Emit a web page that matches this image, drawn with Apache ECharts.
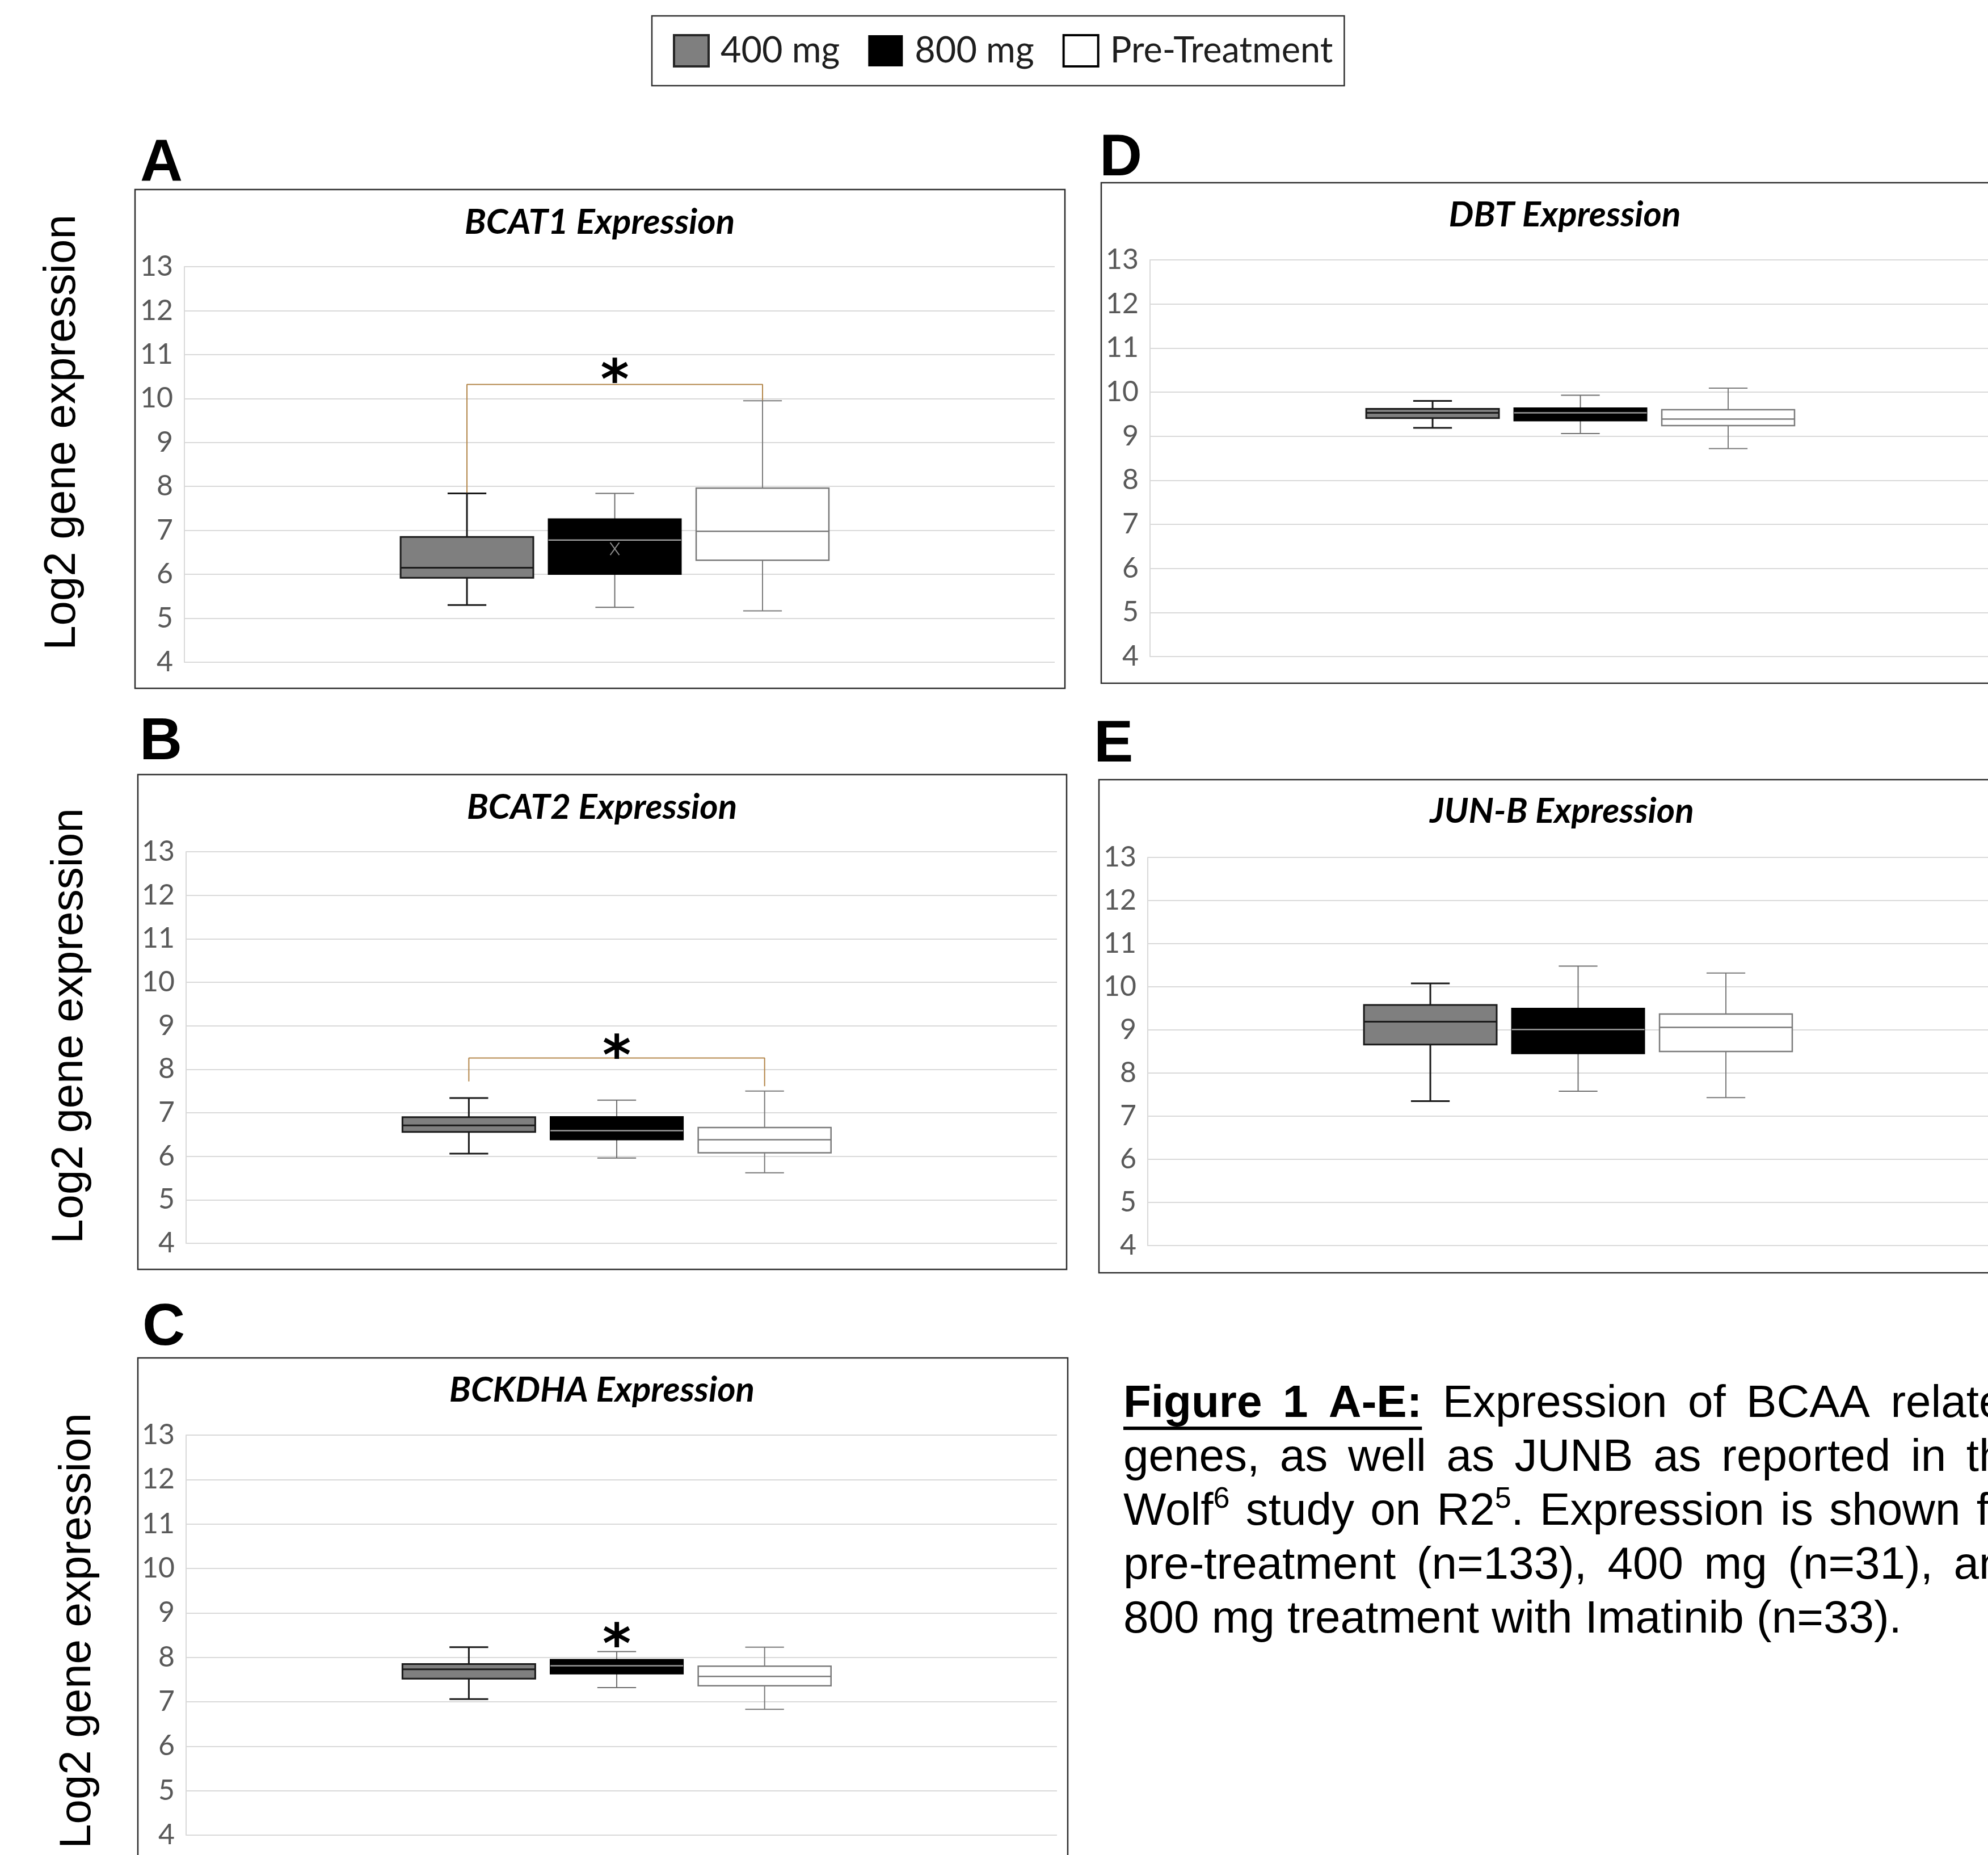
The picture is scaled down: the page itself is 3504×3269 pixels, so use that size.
<!DOCTYPE html>
<html>
<head>
<meta charset="utf-8">
<script src="https://cdn.jsdelivr.net/npm/echarts@6/dist/echarts.min.js"></script>
<style>
html,body{margin:0;padding:0;background:#ffffff;}
#main{width:3504px;height:3269px;}
</style>
</head>
<body>
<div id="main"></div>
<script>
// ================= DATA =================
const groups = ['400 mg', '800 mg', 'Pre-Treatment'];
const yTickMin = 4, yTickMax = 13, yTickStep = 1;
const panelGenes = ['BCAT1', 'BCAT2', 'BCKDHA', 'DBT', 'JUN-B'];
const panelLetters = ['A', 'B', 'C', 'D', 'E'];

// box statistics: [min, Q1, median, Q3, max]
const BCAT1_400 = [5.30, 5.92, 6.15, 6.85, 7.84];
const BCAT1_800 = [5.25, 6.00, 6.78, 7.26, 7.84];
const BCAT1_PRE = [5.17, 6.32, 6.98, 7.96, 9.95];
const BCAT2_400 = [6.06, 6.56, 6.71, 6.90, 7.34];
const BCAT2_800 = [5.96, 6.38, 6.59, 6.91, 7.29];
const BCAT2_PRE = [5.62, 6.08, 6.38, 6.66, 7.50];
const BCKDHA_400 = [7.06, 7.52, 7.73, 7.85, 8.23];
const BCKDHA_800 = [7.32, 7.63, 7.81, 7.95, 8.13];
const BCKDHA_PRE = [6.83, 7.36, 7.57, 7.80, 8.23];
const DBT_400 = [9.19, 9.41, 9.53, 9.62, 9.80];
const DBT_800 = [9.06, 9.35, 9.53, 9.64, 9.93];
const DBT_PRE = [8.72, 9.24, 9.39, 9.60, 10.09];
const JUNB_400 = [7.35, 8.66, 9.19, 9.58, 10.08];
const JUNB_800 = [7.58, 8.45, 9.01, 9.50, 10.48];
const JUNB_PRE = [7.43, 8.50, 9.06, 9.37, 10.32];
const BCAT1_800_MEAN = 6.58;

// significance marks: bracket [left end, top, right end], asterisk heights
const BCAT1_BRACKET = [7.84, 10.32, 9.95];
const BCAT2_BRACKET = [7.72, 8.26, 7.61];
const STAR_BCAT1 = 10.68;
const STAR_BCAT2 = 8.58;
const STAR_BCKDHA = 8.56;

const captionLines = [
  '**Figure** **1** **A-E:** Expression of BCAA related',
  'genes, as well as JUNB as reported in the',
  'Wolf^6 study on R2^5. Expression is shown for',
  'pre-treatment (n=133), 400 mg (n=31), and',
  '800 mg treatment with Imatinib (n=33).'
];

// ================= LAYOUT / STYLE =================
const X_MIN = -0.912, X_MAX = 4.977;   // group positions are 1,2,3
const BOX_W = 0.898, WHISKER_CAP_W = 0.262;
const PANELS = [
  {grid: {left: 325, top: 470, width: 1534, height: 697}, frame: [238, 334, 1877, 1213], title: [1057, 392], letter: [247, 289], ylab: [110, 762]},
  {grid: {left: 328, top: 1501, width: 1535, height: 690}, frame: [243, 1365, 1880, 2237], title: [1061, 1423], letter: [246, 1309], ylab: [123, 1808]},
  {grid: {left: 328, top: 2529, width: 1535, height: 705}, frame: [243, 2393, 1882, 3330], title: [1061, 2450], letter: [251, 2341], ylab: [137, 2874]},
  {grid: {left: 2027, top: 458, width: 1534, height: 699}, frame: [1941, 322, 3580, 1204], title: [2758, 379], letter: [1938, 280]},
  {grid: {left: 2023, top: 1511, width: 1534, height: 684}, frame: [1937, 1374, 3580, 2243], title: [2753, 1430], letter: [1928, 1313]}
];
const PANEL_DATA = [
  [BCAT1_400, BCAT1_800, BCAT1_PRE],
  [BCAT2_400, BCAT2_800, BCAT2_PRE],
  [BCKDHA_400, BCKDHA_800, BCKDHA_PRE],
  [DBT_400, DBT_800, DBT_PRE],
  [JUNB_400, JUNB_800, JUNB_PRE]
];
const GROUP_STYLE = [
  {fill: '#7f7f7f', stroke: '#1a1a1a', lw: 3, med: '#1a1a1a', medLw: 3, whisk: '#1a1a1a', whiskLw: 3},
  {fill: '#000000', stroke: '#000000', lw: 2, med: '#9a9a9a', medLw: 2.5, whisk: '#6e6e6e', whiskLw: 2},
  {fill: '#ffffff', stroke: '#7a7a7a', lw: 2.5, med: '#7a7a7a', medLw: 2.5, whisk: '#7a7a7a', whiskLw: 2}
];

function makeBoxRenderer(g) {
  const st = GROUP_STYLE[g];
  return function (params, api) {
    const x = api.value(0);
    const lo = api.coord([x, api.value(1)]);
    const q1 = api.coord([x, api.value(2)]);
    const md = api.coord([x, api.value(3)]);
    const q3 = api.coord([x, api.value(4)]);
    const hi = api.coord([x, api.value(5)]);
    const bw = api.size([BOX_W, 0])[0];
    const cw = api.size([WHISKER_CAP_W, 0])[0];
    const cx = lo[0];
    const ln = (x1, y1, x2, y2, c, w) => ({type: 'line', shape: {x1, y1, x2, y2}, style: {stroke: c, lineWidth: w}});
    const ch = [
      ln(cx, hi[1], cx, q3[1], st.whisk, st.whiskLw),
      ln(cx, q1[1], cx, lo[1], st.whisk, st.whiskLw),
      ln(cx - cw / 2, hi[1], cx + cw / 2, hi[1], st.whisk, st.whiskLw),
      ln(cx - cw / 2, lo[1], cx + cw / 2, lo[1], st.whisk, st.whiskLw),
      {type: 'rect', shape: {x: cx - bw / 2, y: q3[1], width: bw, height: q1[1] - q3[1]},
       style: {fill: st.fill, stroke: st.stroke, lineWidth: st.lw}},
      ln(cx - bw / 2, md[1], cx + bw / 2, md[1], st.med, st.medLw)
    ];
    const mean = api.value(6);
    if (mean != null && !isNaN(mean)) {
      const m = api.coord([x, mean]);
      ch.push(ln(m[0] - 8, m[1] - 11, m[0] + 8, m[1] + 11, '#8c8c8c', 2));
      ch.push(ln(m[0] + 8, m[1] - 11, m[0] - 8, m[1] + 11, '#8c8c8c', 2));
    }
    return {type: 'group', children: ch};
  };
}
const STAR_SIZE = 96;
function starRenderer(params, api) {
  const p = api.coord([api.value(0), api.value(1)]);
  return {type: 'text', x: p[0], y: p[1] + STAR_SIZE * 0.29,
    style: {text: '*', fontSize: STAR_SIZE, fontWeight: 'bold', fontFamily: 'DejaVu Sans', fill: '#000', align: 'center', verticalAlign: 'middle'}};
}

// ================= BUILD OPTION =================
const grids = [], xAxes = [], yAxes = [], series = [], graphics = [];
PANELS.forEach((p, i) => {
  grids.push(Object.assign({outerBoundsMode: 'none', containLabel: false}, p.grid));
  xAxes.push({type: 'value', gridIndex: i, min: X_MIN, max: X_MAX, show: false});
  yAxes.push({
    type: 'value', gridIndex: i, min: yTickMin, max: yTickMax, interval: yTickStep,
    axisLine: {show: true, onZero: false, lineStyle: {color: '#d9d9d9', width: 2}},
    axisTick: {show: false},
    splitLine: {show: true, lineStyle: {color: '#d9d9d9', width: 2}},
    axisLabel: {fontFamily: 'Lato', fontSize: 50, color: '#595959', margin: 20}
  });
  PANEL_DATA[i].forEach((stats, g) => {
    const item = [g + 1].concat(stats);
    if (i === 0 && g === 1) item.push(BCAT1_800_MEAN);
    series.push({
      name: groups[g], type: 'custom', xAxisIndex: i, yAxisIndex: i,
      renderItem: makeBoxRenderer(g),
      encode: {x: 0, y: [1, 2, 3, 4, 5]},
      data: [item], silent: true, z: 3
    });
  });
  const f = p.frame;
  graphics.push({type: 'rect', shape: {x: f[0], y: f[1], width: f[2] - f[0], height: f[3] - f[1]},
    style: {fill: 'none', stroke: '#2e2e2e', lineWidth: 2.5}, z: 0, silent: true});
  graphics.push({type: 'text', x: p.letter[0], y: p.letter[1],
    style: {text: panelLetters[i], fontFamily: 'Liberation Sans', fontWeight: 'bold', fontSize: 104, fill: '#000', align: 'left', verticalAlign: 'middle'}});
  const titleRich = {
    k: {fontFamily: 'Lato', fontWeight: 'bold', fontStyle: 'italic', fontSize: 62, color: '#000'},
    g: {fontFamily: 'Lato', fontWeight: 'bold', fontStyle: 'italic', fontSize: 62, color: '#5f5f5f'}
  };
  const gene = panelGenes[i];
  const titleText = gene === 'BCKDHA' ? '{g|' + gene + '}{k| Expression}' : '{k|' + gene + ' Expression}';
  graphics.push({type: 'text', x: p.title[0], y: p.title[1],
    style: {text: titleText, rich: titleRich, align: 'center', verticalAlign: 'middle'}});
  if (p.ylab) {
    graphics.push({type: 'text', x: p.ylab[0], y: p.ylab[1], rotation: Math.PI / 2,
      style: {text: 'Log2 gene expression', fontFamily: 'Liberation Sans', fontSize: 78, fill: '#000', align: 'center', verticalAlign: 'middle'}});
  }
});

[[0, BCAT1_BRACKET], [1, BCAT2_BRACKET]].forEach(([i, b]) => {
  series.push({
    type: 'line', xAxisIndex: i, yAxisIndex: i, symbol: 'none', silent: true, z: 2,
    lineStyle: {color: '#b3864a', width: 2},
    data: [[1, b[0]], [1, b[1]], [3, b[1]], [3, b[2]]]
  });
});
[[0, STAR_BCAT1], [1, STAR_BCAT2], [2, STAR_BCKDHA]].forEach(([i, v]) => {
  series.push({type: 'custom', xAxisIndex: i, yAxisIndex: i, renderItem: starRenderer,
    encode: {x: 0, y: 1}, data: [[2, v]], silent: true, z: 4});
});

// caption (justified like the original)
const CAP_FONT = 'Liberation Sans', CAP_SIZE = 80, SUP_SIZE = 52;
const CAP_X = 1980, CAP_LINE_W = 1597, CAP_Y0 = 2475, CAP_LH = 95;
const mctx = document.createElement('canvas').getContext('2d');
function mw(t, bold, size) {
  mctx.font = (bold ? 'bold ' : '') + size + 'px "' + CAP_FONT + '"';
  return mctx.measureText(t).width;
}
function parseWord(w) {
  let bold = false;
  if (w.startsWith('**') && w.endsWith('**')) { bold = true; w = w.slice(2, -2); }
  const parts = w.split(/(\^\d+)/).filter(s => s.length);
  let width = 0, rich = '';
  parts.forEach(s => {
    if (s[0] === '^') { const t = s.slice(1); width += mw(t, false, SUP_SIZE); rich += '{s|' + t + '}'; }
    else { width += mw(s, bold, CAP_SIZE); rich += '{' + (bold ? 'b' : 'n') + '|' + s + '}'; }
  });
  return {rich, width, bold};
}
const capRich = {
  n: {fontFamily: CAP_FONT, fontSize: CAP_SIZE, color: '#000', lineHeight: 96},
  b: {fontFamily: CAP_FONT, fontSize: CAP_SIZE, fontWeight: 'bold', color: '#000', lineHeight: 96},
  s: {fontFamily: CAP_FONT, fontSize: SUP_SIZE, color: '#000', lineHeight: 60, verticalAlign: 'top'}
};
captionLines.forEach((line, li) => {
  const words = line.split(' ').map(parseWord);
  const total = words.reduce((a, w) => a + w.width, 0);
  const justify = li < captionLines.length - 1;
  const gap = justify ? (CAP_LINE_W - total) / (words.length - 1) : mw(' ', false, CAP_SIZE);
  let x = CAP_X;
  const y = CAP_Y0 + li * CAP_LH;
  let boldEnd = null;
  words.forEach(w => {
    graphics.push({type: 'text', x: x, y: y, style: {text: w.rich, rich: capRich, align: 'left', verticalAlign: 'middle'}});
    if (w.bold) boldEnd = x + w.width;
    x += w.width + gap;
  });
  if (boldEnd !== null) {
    graphics.push({type: 'line', shape: {x1: CAP_X, y1: y + 42, x2: boldEnd, y2: y + 42}, style: {stroke: '#000', lineWidth: 6}});
  }
});

const option = {
  backgroundColor: '#ffffff',
  animation: false,
  legend: {
    left: 1149, top: 28, orient: 'horizontal',
    itemWidth: 61, itemHeight: 55, itemGap: 50,
    padding: [30, 20, 30, 37],
    borderColor: '#333333', borderWidth: 2.5,
    selectedMode: false,
    textStyle: {fontFamily: 'Lato', fontSize: 63, color: '#1e1e1e', padding: [0, 0, 0, 16]},
    data: [
      {name: '400 mg', icon: 'rect', itemStyle: {color: '#7f7f7f', borderColor: '#262626', borderWidth: 4}},
      {name: '800 mg', icon: 'rect', itemStyle: {color: '#000000', borderColor: '#000000', borderWidth: 0}},
      {name: 'Pre-Treatment', icon: 'rect', itemStyle: {color: '#ffffff', borderColor: '#000000', borderWidth: 4}}
    ]
  },
  grid: grids,
  xAxis: xAxes,
  yAxis: yAxes,
  series: series,
  graphic: {elements: graphics}
};
const chart = echarts.init(document.getElementById('main'), null, {renderer: 'canvas', width: 3504, height: 3269});
chart.setOption(option);
</script>
</body>
</html>
